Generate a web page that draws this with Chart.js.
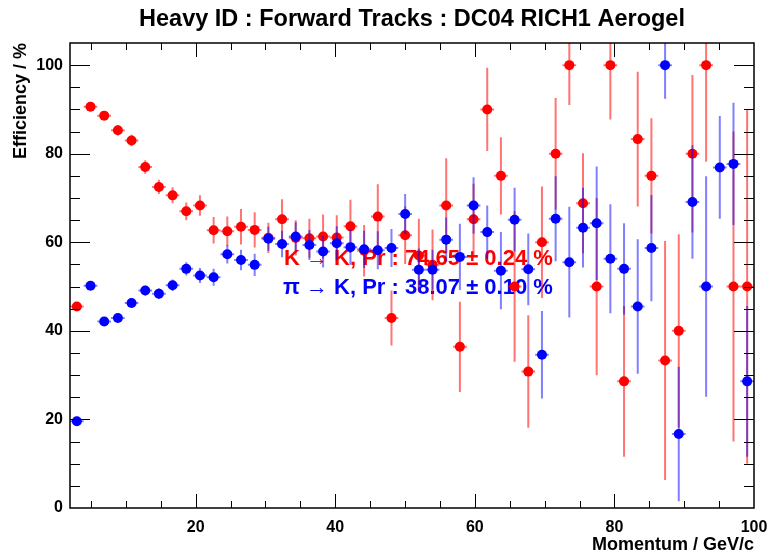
<!DOCTYPE html>
<html>
<head>
<meta charset="utf-8">
<title>Heavy ID : Forward Tracks : DC04 RICH1 Aerogel</title>
<script src="https://cdn.jsdelivr.net/npm/chart.js@4.4.0/dist/chart.umd.min.js"></script>
<style>
  html, body { margin: 0; padding: 0; background: #ffffff; }
  canvas { display: block; }
</style>
</head>
<body>
<canvas id="efficiency-canvas" width="771" height="555"></canvas>
<script>
// Momentum bin centres (GeV/c): 50 bins of width 1.96 from 2 to 100
const momentumBins = [
    2.98, 4.94, 6.90, 8.86, 10.82, 12.78, 14.74, 16.70, 18.66, 20.62,
    22.58, 24.54, 26.50, 28.46, 30.42, 32.38, 34.34, 36.30, 38.26, 40.22,
    42.18, 44.14, 46.10, 48.06, 50.02, 51.98, 53.94, 55.90, 57.86, 59.82,
    61.78, 63.74, 65.70, 67.66, 69.62, 71.58, 73.54, 75.50, 77.46, 79.42,
    81.38, 83.34, 85.30, 87.26, 89.22, 91.18, 93.14, 95.10, 97.06, 99.02
];
const binHalfWidth = 0.98;

// K -> K efficiency (%) per bin, null where the bin is empty
const kaonEfficiency = [
    45.5, 90.6, 88.6, 85.3, 83.0, 77.0, 72.5, 70.6, 67.0, 68.3,
    62.7, 62.5, 63.5, 62.8, 61.0, 65.2, 61.0, 60.9, 61.3, 61.1,
    63.6, 58.1, 65.8, 42.9, 61.6, 57.0, 54.9, 68.3, 36.4, 65.2,
    90.0, 75.0, 50.0, 30.8, 60.0, 80.0, 100.0, 68.8, 50.0, 100.0,
    28.6, 83.3, 75.0, 33.3, 40.0, 80.0, 100.0, null, 50.0, 50.0
];
const kaonError = [
    1.0, 1.0, 1.0, 1.2, 1.3, 1.5, 1.6, 1.8, 2.0, 2.3,
    3.0, 3.3, 4.0, 4.0, 3.4, 4.5, 4.0, 4.4, 5.0, 5.0,
    6.0, 5.8, 7.3, 6.2, 6.5, 8.3, 8.0, 10.7, 10.2, 8.0,
    9.4, 8.7, 17.0, 12.7, 12.6, 12.6, 9.0, 11.3, 20.0, 12.3,
    17.0, 15.2, 13.0, 27.0, 21.8, 17.8, 21.8, null, 35.0, 40.0
];

// pi -> K misidentification (%) per bin
const pionEfficiency = [
    19.6, 50.2, 42.1, 42.9, 46.3, 49.1, 48.4, 50.3, 54.0, 52.5,
    52.1, 57.3, 56.0, 54.9, 60.8, 59.6, 61.3, 59.4, 57.9, 59.8,
    58.9, 58.4, 58.2, 58.7, 66.4, 53.8, 53.8, 60.6, 56.7, 68.3,
    62.3, 53.6, 65.1, 53.9, 34.6, 65.3, 55.5, 63.3, 64.3, 56.3,
    54.0, 45.5, 58.7, 100.0, 16.7, 69.1, 50.0, 76.9, 77.7, 28.6
];
const pionError = [
    1.0, 1.0, 0.9, 0.9, 1.0, 1.1, 1.2, 1.3, 1.5, 1.7,
    1.9, 2.1, 2.3, 2.5, 2.7, 3.0, 3.2, 3.4, 3.6, 3.8,
    4.0, 4.2, 4.3, 4.3, 4.5, 4.8, 4.5, 5.0, 7.5, 6.4,
    6.0, 8.7, 7.2, 8.1, 9.9, 9.6, 12.5, 9.0, 12.8, 12.3,
    10.3, 15.2, 12.0, 7.6, 15.2, 12.8, 24.9, 11.6, 13.8, 17.0
];

// labelled axis values
const xTickLabels = [20, 40, 60, 80, 100];
const yTickLabels = [0, 20, 40, 60, 80, 100];

// integrated efficiencies printed inside the frame
const kaonSummary = 'K \u2192 K, Pr : 74.65 \u00b1 0.24 %';
const pionSummary = '\u03c0 \u2192 K, Pr : 38.07 \u00b1 0.10 %';

const FONT = "'Liberation Sans', Arial, Helvetica, sans-serif";
Chart.defaults.font.family = FONT;
Chart.defaults.color = '#000000';

function toPoints(values, errors) {
    const points = [];
    values.forEach((v, i) => {
        if (v === null) return;
        points.push({ x: momentumBins[i], y: v, err: errors[i] });
    });
    return points;
}

// vertical errors plus the bin-width bar, drawn under each dataset's markers
const errorBarPlugin = {
    id: 'errorBars',
    beforeDatasetDraw(chart, args) {
        const { ctx, chartArea, scales } = chart;
        const dataset = chart.data.datasets[args.index];
        ctx.save();
        ctx.beginPath();
        ctx.rect(chartArea.left, chartArea.top, chartArea.width, chartArea.height);
        ctx.clip();
        ctx.strokeStyle = dataset.errorColor;
        ctx.lineWidth = 2;
        dataset.data.forEach(p => {
            const px = scales.x.getPixelForValue(p.x);
            const py = scales.y.getPixelForValue(p.y);
            ctx.beginPath();
            ctx.moveTo(px, scales.y.getPixelForValue(p.y + p.err));
            ctx.lineTo(px, scales.y.getPixelForValue(p.y - p.err));
            ctx.moveTo(scales.x.getPixelForValue(p.x - binHalfWidth), py);
            ctx.lineTo(scales.x.getPixelForValue(p.x + binHalfWidth), py);
            ctx.stroke();
        });
        ctx.restore();
    }
};

// summary lines behind the points
const summaryPlugin = {
    id: 'summaryText',
    beforeDatasetsDraw(chart) {
        const { ctx } = chart;
        ctx.save();
        ctx.font = 'bold 22px ' + FONT;
        ctx.textAlign = 'left';
        ctx.textBaseline = 'alphabetic';
        ctx.fillStyle = '#ff0000';
        ctx.fillText(kaonSummary, 284, 265);
        ctx.fillStyle = '#0000ff';
        ctx.fillText(pionSummary, 283, 294);
        ctx.restore();
    }
};

// frame with inward ticks on all four sides
const framePlugin = {
    id: 'rootFrame',
    afterDatasetsDraw(chart) {
        const { ctx, chartArea: a, scales: { x, y } } = chart;
        ctx.save();
        ctx.strokeStyle = '#000000';
        ctx.lineWidth = 1;
        ctx.beginPath();
        x.ticks.forEach(t => {
            if (t.value <= x.min || t.value >= x.max) return;
            const px = Math.round(x.getPixelForValue(t.value)) + 0.5;
            const len = t.value % 20 === 0 ? 14 : 7;
            ctx.moveTo(px, a.bottom); ctx.lineTo(px, a.bottom - len);
            ctx.moveTo(px, a.top); ctx.lineTo(px, a.top + len);
        });
        y.ticks.forEach(t => {
            if (t.value <= y.min || t.value >= y.max) return;
            const py = Math.round(y.getPixelForValue(t.value)) + 0.5;
            const len = t.value % 20 === 0 ? 20 : 10;
            ctx.moveTo(a.left, py); ctx.lineTo(a.left + len, py);
            ctx.moveTo(a.right, py); ctx.lineTo(a.right - len, py);
        });
        ctx.stroke();
        ctx.lineWidth = 1.5;
        ctx.strokeRect(a.left, a.top, a.width, a.height);
        ctx.restore();
    }
};

const ctx = document.getElementById('efficiency-canvas').getContext('2d');
const efficiencyChart = new Chart(ctx, {
    type: 'scatter',
    data: {
        datasets: [
            {
                label: 'K \u2192 K',
                data: toPoints(kaonEfficiency, kaonError),
                backgroundColor: '#ff0000',
                errorColor: 'rgba(255, 0, 0, 0.55)',
                pointRadius: 5,
                pointHoverRadius: 5,
                pointBorderWidth: 0,
                order: 2
            },
            {
                label: '\u03c0 \u2192 K',
                data: toPoints(pionEfficiency, pionError),
                backgroundColor: '#0000ff',
                errorColor: 'rgba(0, 0, 255, 0.5)',
                pointRadius: 5,
                pointHoverRadius: 5,
                pointBorderWidth: 0,
                order: 1
            }
        ]
    },
    options: {
        responsive: false,
        animation: false,
        layout: { padding: { left: 0, right: 17, top: 0, bottom: 0 } },
        scales: {
            x: {
                type: 'linear',
                min: 2,
                max: 100,
                grid: { display: false, drawTicks: false },
                border: { display: false },
                ticks: {
                    stepSize: 5,
                    autoSkip: false,
                    maxRotation: 0,
                    padding: 10,
                    font: { size: 16, weight: 'bold' },
                    callback: v => xTickLabels.includes(v) ? v : ''
                },
                title: {
                    display: true,
                    text: 'Momentum / GeV/c',
                    align: 'end',
                    font: { size: 18, weight: 'bold', lineHeight: 1 },
                    padding: { top: 0, bottom: 1 }
                },
                afterFit(scale) {
                    scale.height = 47;
                    scale.paddingLeft = 0;
                    scale.paddingRight = 0;
                }
            },
            y: {
                type: 'linear',
                min: 0,
                max: 105,
                grid: { display: false, drawTicks: false },
                border: { display: false },
                ticks: {
                    stepSize: 5,
                    autoSkip: false,
                    padding: 7,
                    font: { size: 16, weight: 'bold' },
                    callback: v => yTickLabels.includes(v) ? v : ''
                },
                title: {
                    display: true,
                    text: 'Efficiency / %',
                    align: 'end',
                    font: { size: 18, weight: 'bold', lineHeight: 1 },
                    padding: { top: 12, bottom: 0 }
                },
                afterFit(scale) {
                    scale.width = 70;
                    scale.paddingTop = 0;
                    scale.paddingBottom = 0;
                }
            }
        },
        plugins: {
            legend: { display: false },
            tooltip: { enabled: false },
            title: {
                display: true,
                fullSize: false,
                text: 'Heavy ID : Forward Tracks : DC04 RICH1 Aerogel',
                font: { size: 23.5, weight: 'bold', lineHeight: 1.2 },
                padding: { top: 5, bottom: 9.8 }
            }
        }
    },
    plugins: [errorBarPlugin, summaryPlugin, framePlugin]
});
</script>
</body>
</html>
